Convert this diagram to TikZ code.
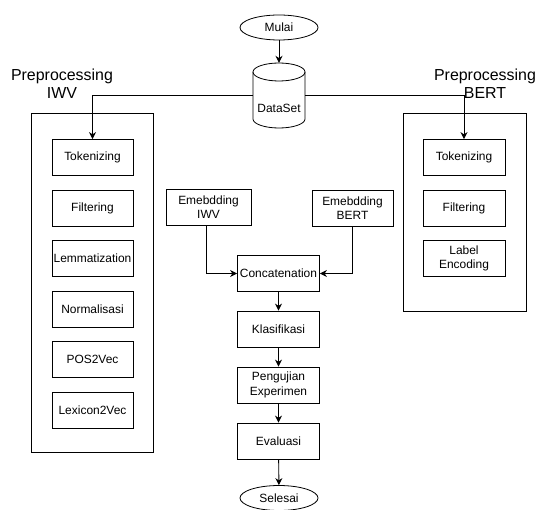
\documentclass[tikz,border=0pt]{standalone}
\usepackage{fontspec}
\setmainfont{Liberation Sans}
\usetikzlibrary{arrows.meta,shapes.geometric}
\tikzset{
  box/.style={draw, line width=0.8bp, minimum width=81bp, minimum height=36bp, inner sep=0pt, align=center, font=\fontsize{12}{14.5}\selectfont},
  cbox/.style={box, minimum width=82bp},
  term/.style={draw, ellipse, line width=0.8bp, minimum width=78bp, minimum height=25bp, inner sep=0pt, font=\fontsize{12}{14.5}\selectfont},
  group/.style={draw, line width=0.7bp},
  ttl/.style={align=center, font=\fontsize{16}{18}\selectfont, inner sep=0pt},
  arr/.style={line width=0.9bp, -{Stealth[length=7bp,width=7bp]}},
  ln/.style={line width=0.9bp}
}
\begin{document}
\begin{tikzpicture}[x=1bp,y=-1bp]
\useasboundingbox (0,0) rectangle (537,510);

% groups
\draw[group] (31,113) rectangle (153,452);
\draw[group] (403,113) rectangle (526,311);
\node[ttl] (tl) at (62,84) {Preprocessing\\IWV};
\node[ttl] (tr) at (485,84) {Preprocessing\\BERT};

% start
\node[term] (mulai) at (279,27.5) {Mulai};

% dataset cylinder
\node[minimum width=52bp, minimum height=65bp, inner sep=0pt] (ds) at (279,95.5) {};
\draw[line width=0.8bp] (253,72) -- (253,119) arc[start angle=180, end angle=0, x radius=26, y radius=9] -- (305,72);
\draw[line width=0.8bp] (279,72) ellipse[x radius=26, y radius=9];
\node[font=\fontsize{12}{14.5}\selectfont, inner sep=0pt] (dst) at (279,108) {DataSet};

% left column
\node[box] (tok1) at (92.5,157.5) {Tokenizing};
\node[box] (fil1) at (92.5,208) {Filtering};
\node[box] (lem) at (92.5,258.5) {Lemmatization};
\node[box] (nor) at (92.5,309) {Normalisasi};
\node[box] (pos) at (92.5,359.5) {POS2Vec};
\node[box] (lex) at (92.5,410) {Lexicon2Vec};

% right column
\node[box, minimum width=82bp] (tok2) at (464,157.5) {Tokenizing};
\node[box, minimum width=82bp] (fil2) at (464,208) {Filtering};
\node[box, minimum width=82bp] (lab) at (464,258.5) {Label\\Encoding};

% embeddings
\node[box, minimum width=85bp] (eiwv) at (208.5,207) {Emebdding\\IWV};
\node[box] (ebert) at (352.5,208) {Emebdding\\BERT};

% center column
\node[cbox] (con) at (278.5,273.5) {Concatenation};
\node[cbox] (kla) at (278.5,329) {Klasifikasi};
\node[cbox] (pen) at (278.5,385) {Pengujian\\Experimen};
\node[cbox] (eva) at (278.5,441) {Evaluasi};
\node[term] (sel) at (279,498) {Selesai};

% connectors
\draw[arr] (mulai.south) -- (ds.north);
\draw[arr] (ds.west |- 0,95) -| (tok1.north);
\draw[arr] (ds.east |- 0,95) -| (tok2.north);
\draw[arr] (eiwv.south -| 206,0) |- (con.west);
\draw[arr] (ebert.south) |- (con.east);
\draw[arr] (con) -- (kla);
\draw[arr] (kla) -- (pen);
\draw[arr] (pen) -- (eva);
\draw[arr] (eva) -- (sel);
\end{tikzpicture}
\end{document}
